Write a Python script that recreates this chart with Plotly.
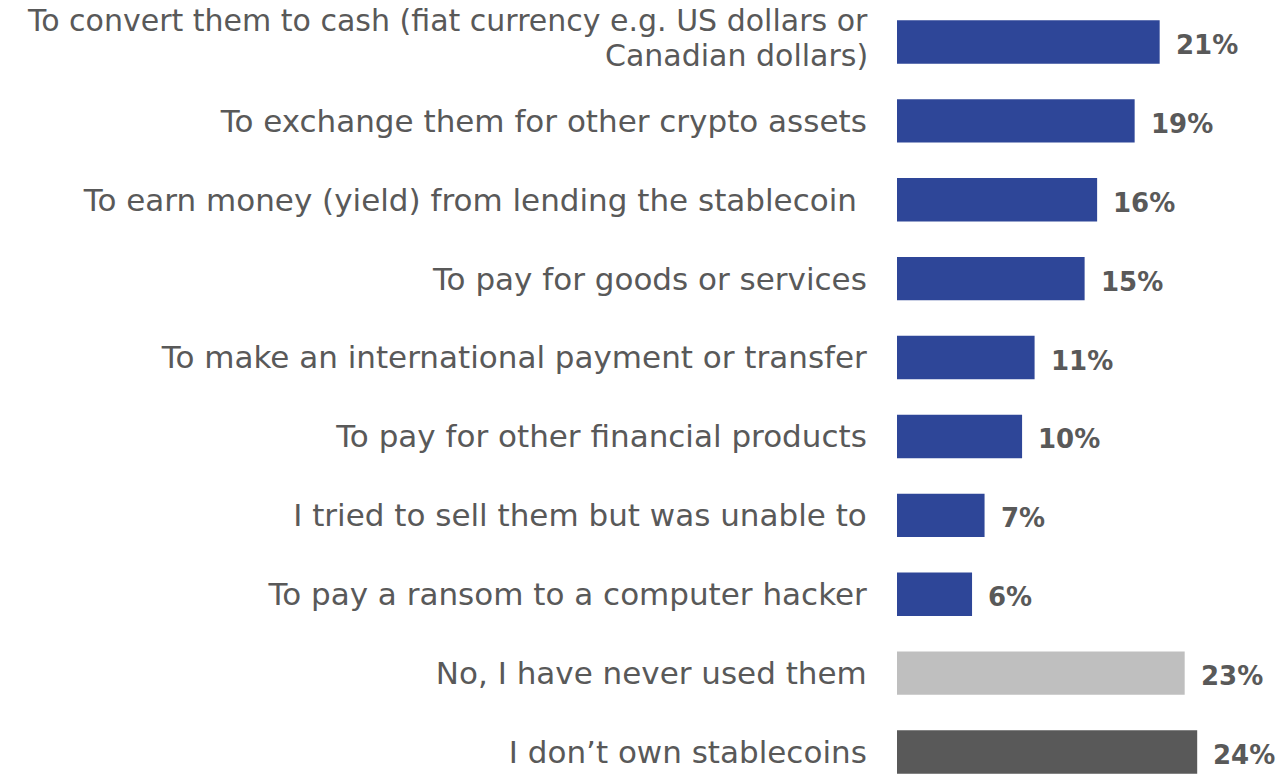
import plotly.graph_objects as go

categories = [
    "To convert them to cash (fiat currency e.g. US dollars or<br>Canadian dollars)",
    "To exchange them for other crypto assets",
    "To earn money (yield) from lending the stablecoin ",
    "To pay for goods or services",
    "To make an international payment or transfer",
    "To pay for other financial products",
    "I tried to sell them but was unable to",
    "To pay a ransom to a computer hacker",
    "No, I have never used them",
    "I don\u2019t own stablecoins",
]
values = [21, 19, 16, 15, 11, 10, 7, 6, 23, 24]
value_labels = ["21%", "19%", "16%", "15%", "11%", "10%", "7%", "6%", "23%", "24%"]
colors = ["#2E4698"] * 8 + ["#BFBFBF", "#595959"]

positions = list(range(len(categories)))
label_font = dict(family="DejaVu Sans", size=31, color="#595959")
wrap_font = dict(family="DejaVu Sans", size=30, color="#595959")

fig = go.Figure()
fig.add_trace(go.Bar(
    x=values,
    y=positions,
    orientation="h",
    marker=dict(color=colors, line=dict(width=0)),
    width=0.55,
    hoverinfo="skip",
))

for v, p, t in zip(values, positions, value_labels):
    fig.add_annotation(
        x=v, y=p, text=t, showarrow=False, xanchor="left", yanchor="middle",
        xshift=14, yshift=-3,
        font=dict(family="DejaVu Sans", size=26, color="#595959", weight="bold"),
    )

# category labels: single-line ones as ticks, the two-line one as tight-spaced annotations
tick_text = [c if "<br>" not in c else "" for c in categories]
for p, c in zip(positions, categories):
    if "<br>" in c:
        lines = c.split("<br>")
        n = len(lines)
        for i, line in enumerate(lines):
            fig.add_annotation(
                xref="paper", x=0, y=p, text=line, showarrow=False,
                xanchor="right", yanchor="middle",
                xshift=-27, yshift=(n - 1) * 17.5 - i * 35 + 4,
                font=wrap_font,
            )

fig.update_layout(
    width=1281, height=774,
    margin=dict(l=897, r=0, t=0, b=0, autoexpand=False),
    plot_bgcolor="white", paper_bgcolor="white",
    showlegend=False,
    xaxis=dict(range=[0, 30.7], visible=False),
    yaxis=dict(
        range=[9.278, -0.532],
        tickmode="array", tickvals=positions, ticktext=tick_text,
        ticks="outside", ticklen=23, tickcolor="rgba(0,0,0,0)",
        showgrid=False, zeroline=False, showline=False,
        tickfont=label_font,
        automargin=False,
    ),
)

fig.write_html("out.html", config={"displayModeBar": False},
               post_script="document.body.style.margin='0';document.body.style.overflow='hidden';")
